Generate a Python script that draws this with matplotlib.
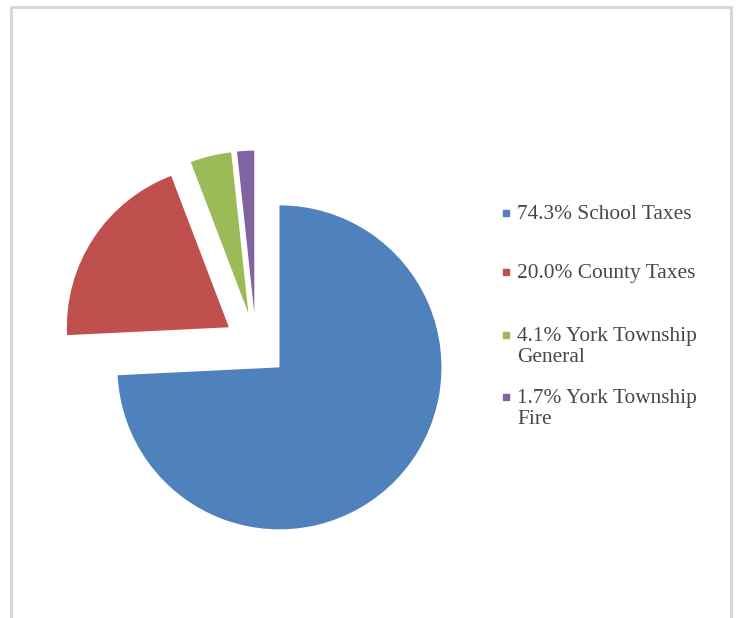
import matplotlib.pyplot as plt
from matplotlib.lines import Line2D
from matplotlib.patches import Rectangle

# valores do grafico
categorias = ['School Taxes', 'County Taxes', 'York Township\nGeneral', 'York Township\nFire']
percentuais = [74.3, 20.0, 4.1, 1.7]
cores = ['#4F81BD', '#C0504D', '#9BBB59', '#8064A2']

W, H = 740, 618
fig = plt.figure(figsize=(W / 100, H / 100), dpi=100)

# moldura cinza clara
fig.add_artist(Rectangle((11 / W, -0.02), 720 / W, 1.02 - 7 / H, transform=fig.transFigure,
                         fill=False, edgecolor='#D8D4D0', linewidth=2))

# pizza: centro ~ (256, 345) px, raio ~162 px
raio_px = 162
lado = 400
cx, cy = 256, 345
ax = fig.add_axes([(cx - lado / 2) / W, (H - cy - lado / 2) / H, lado / W, lado / H])
ax.pie(percentuais, colors=cores, startangle=90, counterclock=False,
       explode=[0.2] * len(percentuais), wedgeprops={'linewidth': 0})
lim = lado / 2 / raio_px
ax.set_xlim(-lim, lim)
ax.set_ylim(-lim, lim)
ax.set_aspect('equal')
ax.axis('off')

# legenda manual
linhas_y = [213, 272, 335, 397]
for cat, pct, cor, y in zip(categorias, percentuais, cores, linhas_y):
    fig.add_artist(Line2D([506 / W], [(H - y) / H], marker='s', markersize=4,
                          color=cor, linestyle='none', transform=fig.transFigure))
    fig.text(517 / W, (H - y + 8) / H, f'{pct:.1f}% {cat}', fontsize=15.4,
             family='Liberation Serif', color='#474747', va='top', ha='left',
             linespacing=1.12)

fig.savefig('out.png', dpi=100)
